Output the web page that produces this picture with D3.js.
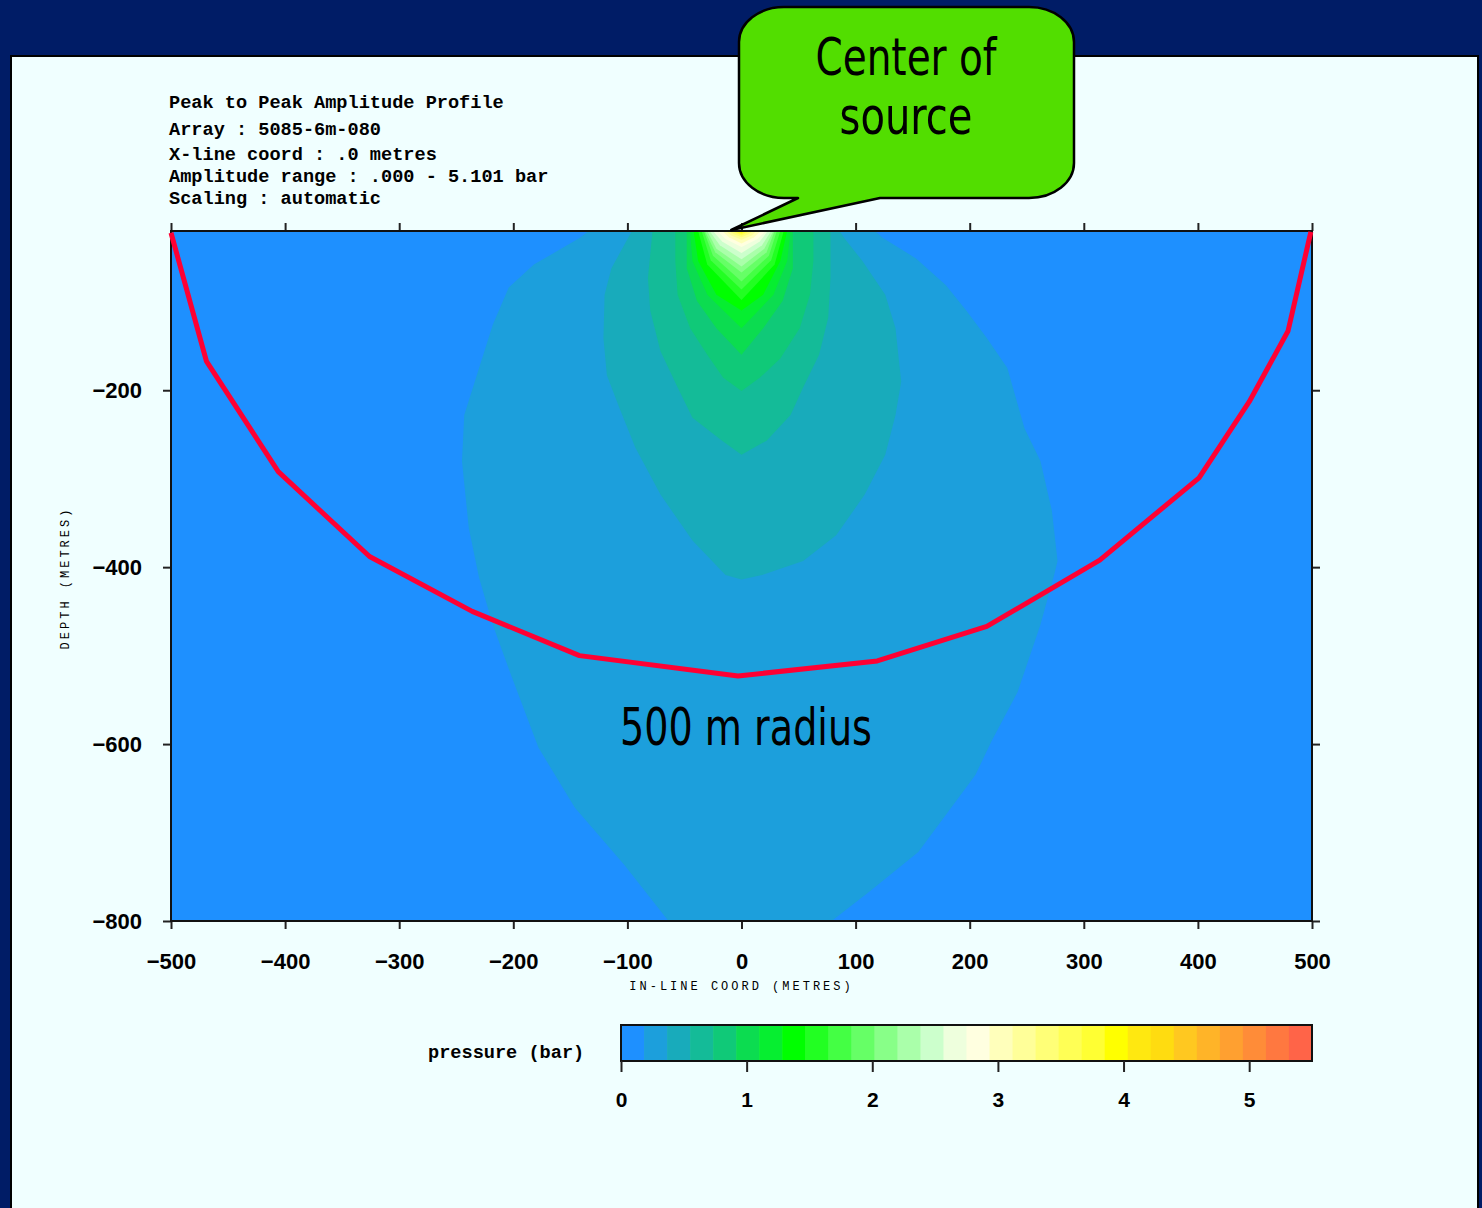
<!DOCTYPE html>
<html>
<head>
<meta charset="utf-8">
<script src="https://cdn.jsdelivr.net/npm/d3@7"></script>
<style>
    body { margin: 0; background: #001c66; }
    svg { display: block; }
    .mono { font-family: "Liberation Mono", "DejaVu Sans Mono", monospace; font-weight: bold; fill: #000; }
    .axis-title { font-family: "Liberation Mono", "DejaVu Sans Mono", monospace; font-size: 12px; letter-spacing: 3px; fill: #000; }
    .tick text { font-family: "Liberation Sans", Arial, sans-serif; font-weight: bold; font-size: 22px; fill: #000; }
    .cbar .tick text { font-size: 21px; }
    .tick line { stroke: #222; stroke-width: 2; }
    .note { font-family: "Liberation Sans Narrow", "DejaVu Sans Condensed", sans-serif; fill: #000; }
</style>
</head>
<body>
<div id="chart"></div>
<script>

// ---- data ----
const xTicks = [-500, -400, -300, -200, -100, 0, 100, 200, 300, 400, 500];
const depthTicks = [-200, -400, -600, -800];
const pressureTicks = [0, 1, 2, 3, 4, 5];
const pressureMax = 5.5;

const titleLines = [
    "Peak to Peak Amplitude Profile",
    "Array : 5085-6m-080",
    "X-line coord : .0 metres",
    "Amplitude range : .000 - 5.101 bar",
    "Scaling : automatic"
];

// colour of each pressure level (colour bar, low -> high)
const levelColors = [
    "#1e90ff", "#1c9fdc", "#18abbb", "#14bb98", "#10c978", "#0cdc50",
    "#06ee30", "#00ff00", "#22ff22", "#44ff44", "#66ff66", "#88ff88",
    "#aaffaa", "#ccffcc", "#eeffdd", "#ffffe0", "#ffffbb", "#ffff99",
    "#ffff77", "#ffff55", "#ffff33", "#ffff00", "#ffe810", "#ffdc10",
    "#ffc820", "#ffb428", "#ffa030", "#ff8c38", "#ff7840", "#ff6448"
];

// contour outlines [in-line coord (m), depth (m)], level 1 upward
const band1 = [[-134,-20],[-142,-28],[-182,-58],[-204,-84],[-218,-126],[-230,-175],[-243,-228],[-245,-280],
    [-239,-356],[-230,-412],[-218,-465],[-202,-522],[-178,-604],[-146,-672],[-103,-736],[-64,-800],
    [79,-800],[112,-767],[155,-722],[205,-635],[219,-597],[242,-541],[262,-465],[274,-409],[277,-393],
    [272,-336],[262,-280],[248,-243],[233,-175],[215,-141],[197,-110],[179,-81],[153,-51],[124,-28],[117,-20]];
const band2 = [[-96,-20],[-114,-62],[-120,-92],[-121,-141],[-118,-183],[-107,-220],[-93,-265],[-71,-318],
    [-43,-370],[-14,-409],[0,-414],[18,-409],[54,-393],[83,-364],[108,-318],[126,-273],[135,-228],
    [140,-190],[138,-167],[135,-130],[126,-92],[106,-54],[90,-28],[86,-20]];
const band3 = [[-78,-20],[-82,-73],[-80,-110],[-71,-156],[-57,-194],[-43,-231],[-17,-257],[0,-273],
    [22,-257],[43,-228],[54,-197],[68,-160],[76,-118],[78,-73],[78,-20]];
const band4 = [[-58,-20],[-58,-54],[-56,-92],[-45,-130],[-30,-160],[-16,-186],[0,-201],[16,-186],
    [34,-164],[51,-130],[60,-92],[63,-54],[63,-20]];
const band5 = [[-48,-20],[-48,-62],[-39,-99],[-22,-130],[0,-160],[19,-130],[36,-99],[45,-62],[45,-20]];
const band6 = [[-45,-20],[-43,-54],[-30,-92],[0,-130],[28,-92],[40,-54],[43,-20]];
const band7 = [[-42,-20],[-38,-54],[-22,-92],[0,-110],[19,-92],[34,-54],[40,-20]];
const band8 = [[-38,-20],[-30,-58],[0,-98],[29,-58],[37,-20]];
const band9 = [[-35,-20],[-27,-53],[0,-86],[26,-53],[34,-20]];
const band10 = [[-33,-20],[-25,-48],[0,-77],[24,-48],[31,-20]];
const band11 = [[-32,-20],[-23,-44],[0,-67],[22,-44],[29,-20]];
const band12 = [[-30,-20],[-22,-40],[0,-60],[20,-40],[28,-20]];
const band13 = [[-28,-20],[-19,-36],[0,-52],[18,-36],[26,-20]];
const band14 = [[-25,-20],[-17,-32],[0,-45],[16,-32],[23,-20]];
const band15 = [[-21,-20],[-14,-29],[0,-38],[14,-29],[21,-20]];
const band16 = [[-17,-20],[-11,-27],[0,-34],[11,-27],[17,-20]];
const band17 = [[-14,-20],[-9,-25],[0,-30],[9,-25],[13,-20]];
const band18 = [[-11,-20],[-7,-23.5],[0,-27],[6.5,-23.5],[10,-20]];
const band19 = [[-8.6,-20],[0,-25],[7.4,-20]];
const band20 = [[-6.6,-20],[0,-23.4],[5.1,-20]];
const band21 = [[-4.8,-20],[0,-21.9],[3.1,-20]];
const band22 = [[-3.7,-20],[0,-21.1],[1.6,-20]];
const bands = [band1, band2, band3, band4, band5, band6, band7, band8, band9, band10, band11,
    band12, band13, band14, band15, band16, band17, band18, band19, band20, band21, band22];

// hand drawn "500 m radius" line
const radiusLine = [[-500,-22],[-469,-167],[-406,-292],[-326,-388],[-236,-450],[-142,-500],[-3,-523],
    [119,-506],[215,-467],[314,-392],[401,-299],[445,-213],[479,-133],[499,-21]];


// ---- layout ----
const W = 1482, H = 1208;
const plot = {left: 171, right: 1312, top: 231, bottom: 921};
const cbar = {left: 621, right: 1312, top: 1025, bottom: 1061};

const svg = d3.select("#chart").append("svg")
    .attr("width", W)
    .attr("height", H);

// slide background + white panel
svg.append("rect").attr("width", W).attr("height", H).attr("fill", "#001c66");
svg.append("rect")
    .attr("x", 11).attr("y", 56)
    .attr("width", 1467).attr("height", H)
    .attr("fill", "#f0ffff")
    .attr("stroke", "#000")
    .attr("stroke-width", 2);

// scales
let x = d3.scaleLinear().domain([-500, 500]).range([plot.left, plot.right]);
let y = d3.scaleLinear().domain([-800, -20]).range([plot.bottom, plot.top]);

svg.append("clipPath").attr("id", "plot-clip")
    .append("rect")
    .attr("x", x(-500)).attr("y", y(-20))
    .attr("width", x(500) - x(-500)).attr("height", y(-800) - y(-20));

// contour field
let field = svg.append("g").attr("clip-path", "url(#plot-clip)");

field.append("rect")
    .attr("x", x(-500)).attr("y", y(-20))
    .attr("width", x(500) - x(-500)).attr("height", y(-800) - y(-20))
    .attr("fill", levelColors[0]);

let outline = d3.line().x(d => x(d[0])).y(d => y(d[1]));

field.selectAll("path.band")
    .data(bands)
    .join("path")
    .attr("class", "band")
    .attr("d", d => outline(d) + "Z")
    .attr("fill", (d, i) => levelColors[i + 1]);

// axes
let fmt = d3.format("d");

svg.append("g")
    .attr("transform", "translate(0," + plot.bottom + ")")
    .call(d3.axisBottom(x).tickValues(xTicks).tickSize(8).tickPadding(24).tickFormat(fmt))
    .call(g => g.select(".domain").remove());

svg.append("g")
    .attr("transform", "translate(0," + plot.top + ")")
    .call(d3.axisTop(x).tickValues(xTicks).tickSize(8).tickFormat(""))
    .call(g => g.select(".domain").remove());

svg.append("g")
    .attr("transform", "translate(" + plot.left + ",0)")
    .call(d3.axisLeft(y).tickValues(depthTicks).tickSize(8).tickPadding(21).tickFormat(fmt))
    .call(g => g.select(".domain").remove());

svg.append("g")
    .attr("transform", "translate(" + plot.right + ",0)")
    .call(d3.axisRight(y).tickValues(depthTicks).tickSize(8).tickFormat(""))
    .call(g => g.select(".domain").remove());

// plot frame
svg.append("rect")
    .attr("x", x(-500)).attr("y", y(-20))
    .attr("width", x(500) - x(-500)).attr("height", y(-800) - y(-20))
    .attr("fill", "none")
    .attr("stroke", "#111")
    .attr("stroke-width", 2);

// red radius line
svg.append("path")
    .datum(radiusLine)
    .attr("d", outline)
    .attr("fill", "none")
    .attr("stroke", "#ff0033")
    .attr("stroke-width", 5)
    .attr("stroke-linejoin", "round");

// axis titles
svg.append("text")
    .attr("class", "axis-title")
    .attr("x", x(0)).attr("y", 990)
    .attr("text-anchor", "middle")
    .text("IN-LINE COORD (METRES)");

svg.append("text")
    .attr("class", "axis-title")
    .attr("transform", "translate(69," + ((plot.top + plot.bottom) / 2 + 2) + ") rotate(-90)")
    .attr("text-anchor", "middle")
    .text("DEPTH (METRES)");

// header text
svg.selectAll("text.title")
    .data(titleLines)
    .join("text")
    .attr("class", "title mono")
    .attr("x", 169)
    .attr("y", (d, i) => [108, 135, 160, 182, 204][i])
    .style("font-size", "18.6px")
    .text(d => d);

// colour bar
let cx = d3.scaleLinear().domain([0, pressureMax]).range([cbar.left, cbar.right]);
let step = pressureMax / levelColors.length;

let cb = svg.append("g").attr("class", "cbar");

cb.selectAll("rect.level")
    .data(levelColors)
    .join("rect")
    .attr("class", "level")
    .attr("x", (d, i) => cx(i * step))
    .attr("y", cbar.top)
    .attr("width", cx(step) - cx(0) + 0.6)
    .attr("height", cbar.bottom - cbar.top)
    .attr("fill", d => d);

cb.append("rect")
    .attr("x", cbar.left).attr("y", cbar.top)
    .attr("width", cbar.right - cbar.left).attr("height", cbar.bottom - cbar.top)
    .attr("fill", "none")
    .attr("stroke", "#111")
    .attr("stroke-width", 2);

cb.append("g")
    .attr("transform", "translate(0," + cbar.bottom + ")")
    .call(d3.axisBottom(cx).tickValues(pressureTicks).tickSize(11).tickPadding(20).tickFormat(fmt))
    .call(g => g.select(".domain").remove());

svg.append("text")
    .attr("class", "mono")
    .attr("x", 428).attr("y", 1058)
    .style("font-size", "18.6px")
    .text("pressure (bar)");

// callout
let tipX = x(-9), tipY = y(-20) - 1;
svg.append("path")
    .attr("d", "M784,7 H1029 A45,35 0 0 1 1074,42 V163 A45,35 0 0 1 1029,198 H880 L" + tipX + "," + tipY +
        " L798,198 H784 A45,35 0 0 1 739,163 V42 A45,35 0 0 1 784,7 Z")
    .attr("fill", "#52de00")
    .attr("stroke", "#000")
    .attr("stroke-width", 2.5)
    .attr("stroke-linejoin", "round");

// narrow lettering: squeeze each note to the width it has in the picture
function note(txt, cxPos, baseline, size, width) {
    svg.append("text")
        .attr("class", "note")
        .attr("x", cxPos - width / 2).attr("y", baseline)
        .attr("textLength", width)
        .attr("lengthAdjust", "spacingAndGlyphs")
        .style("font-size", size + "px")
        .text(txt);
}

note("Center of", 906, 75, 52, 181);
note("source", 906, 134, 52, 133);
note("500 m radius", 746, 745, 51, 252);

</script>
</body>
</html>
